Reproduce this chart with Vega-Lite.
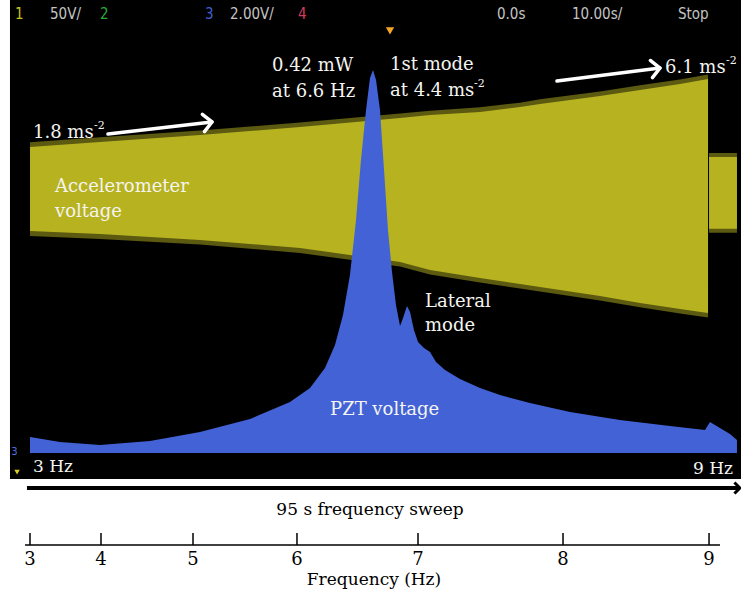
{
  "$schema": "https://vega.github.io/schema/vega-lite/v6.json",
  "width": 741,
  "height": 597,
  "padding": 0,
  "autosize": {"type": "none"},
  "background": "white",
  "config": {"view": {"stroke": null}},
  "datasets": {
    "freq": [
      {"t": -50, "f": "3", "d": -0.956, "d2": -1.168, "dl": -1.434},
      {"t": -40.14, "f": "4", "d": -0.956, "d2": -1.168, "dl": -1.434},
      {"t": -27.36, "f": "5", "d": -0.956, "d2": -1.168, "dl": -1.434},
      {"t": -12.92, "f": "6", "d": -0.956, "d2": -1.168, "dl": -1.434},
      {"t": 3.89, "f": "7", "d": -0.956, "d2": -1.168, "dl": -1.434},
      {"t": 24.03, "f": "8", "d": -0.956, "d2": -1.168, "dl": -1.434},
      {"t": 44.31, "f": "9", "d": -0.956, "d2": -1.168, "dl": -1.434}
    ],
    "accel": [
      {"seg": "sweep", "t": -50, "d": 5.876, "b": 4.389, "st": 5.96, "sb": 4.30},
      {"seg": "sweep", "t": -40.28, "d": 5.965, "b": 4.336, "st": 6.05, "sb": 4.25},
      {"seg": "sweep", "t": -26.39, "d": 6.088, "b": 4.230, "st": 6.17, "sb": 4.15},
      {"seg": "sweep", "t": -12.5, "d": 6.230, "b": 4.088, "st": 6.31, "sb": 4.00},
      {"seg": "sweep", "t": 1.39, "d": 6.389, "b": 3.841, "st": 6.47, "sb": 3.76},
      {"seg": "sweep", "t": 5.56, "d": 6.442, "b": 3.699, "st": 6.52, "sb": 3.62},
      {"seg": "sweep", "t": 12.5, "d": 6.496, "b": 3.558, "st": 6.58, "sb": 3.48},
      {"seg": "sweep", "t": 18.06, "d": 6.584, "b": 3.451, "st": 6.66, "sb": 3.37},
      {"seg": "sweep", "t": 20.83, "d": 6.637, "b": 3.398, "st": 6.72, "sb": 3.32},
      {"seg": "sweep", "t": 29.17, "d": 6.779, "b": 3.239, "st": 6.86, "sb": 3.16},
      {"seg": "sweep", "t": 34.72, "d": 6.885, "b": 3.115, "st": 6.97, "sb": 3.04},
      {"seg": "sweep", "t": 40.28, "d": 6.991, "b": 3.009, "st": 7.07, "sb": 2.93},
      {"seg": "sweep", "t": 44.17, "d": 7.080, "b": 2.938, "st": 7.16, "sb": 2.86},
      {"seg": "tail", "t": 44.31, "d": 5.699, "b": 4.430, "st": 5.77, "sb": 4.36},
      {"seg": "tail", "t": 48.19, "d": 5.699, "b": 4.430, "st": 5.77, "sb": 4.36}
    ]
  },
  "encoding": {
    "x": {"field": "t", "type": "quantitative", "scale": {"domain": [-54.1667, 48.75], "nice": false, "zero": false}, "axis": null},
    "y": {"field": "d", "type": "quantitative", "scale": {"domain": [-2.088, 8.478], "nice": false, "zero": false}, "axis": null}
  },
  "layer": [
    {
      "data": {"values": [{"t": -52.78, "t2": 48.75, "d": 0, "d2": 8.478}]},
      "mark": {"type": "rect", "color": "black"},
      "encoding": {"x2": {"field": "t2"}, "y2": {"field": "d2"}}
    },
    {
      "data": {"values": [{"t": -40}, {"t": -30}, {"t": -20}, {"t": -10}, {"t": 0}, {"t": 10}, {"t": 20}, {"t": 30}, {"t": 40}]},
      "mark": {"type": "rule", "color": "#3a3a3a", "strokeWidth": 1},
      "encoding": {"y": {"datum": 0}, "y2": {"datum": 8}}
    },
    {
      "data": {"values": [{"d": 1}, {"d": 2}, {"d": 3}, {"d": 4}, {"d": 5}, {"d": 6}, {"d": 7}]},
      "mark": {"type": "rule", "color": "#3a3a3a", "strokeWidth": 1},
      "encoding": {"x": {"datum": -50}, "x2": {"datum": 48.75}}
    },
    {
      "data": {"values": [{"t": -50}]},
      "mark": {"type": "rule", "color": "#c4c4c4", "strokeWidth": 1.5},
      "encoding": {"y": {"datum": 0}, "y2": {"datum": 8}}
    },
    {
      "data": {"values": [{"d": 8}]},
      "mark": {"type": "rule", "color": "#9a9a9a", "strokeWidth": 1.5},
      "encoding": {"x": {"datum": -52.78}, "x2": {"datum": 48.75}}
    },
    {
      "data": {"name": "accel"},
      "mark": {"type": "area", "color": "#b7b21f", "opacity": 0.5},
      "encoding": {"y": {"field": "st"}, "y2": {"field": "sb"}, "detail": {"field": "seg"}}
    },
    {
      "data": {"name": "accel"},
      "mark": {"type": "area", "color": "#b7b21f", "opacity": 1},
      "encoding": {"y2": {"field": "b"}, "detail": {"field": "seg"}}
    },
    {
      "data": {"values": [
        {"t": -50, "d": 0.743}, {"t": -45.83, "d": 0.655}, {"t": -40.28, "d": 0.602},
        {"t": -33.33, "d": 0.673}, {"t": -26.39, "d": 0.832}, {"t": -19.44, "d": 1.062},
        {"t": -13.89, "d": 1.363}, {"t": -11.11, "d": 1.611}, {"t": -9.03, "d": 1.965},
        {"t": -7.64, "d": 2.372}, {"t": -6.53, "d": 2.903}, {"t": -5.56, "d": 3.611},
        {"t": -4.72, "d": 4.584}, {"t": -4.03, "d": 5.646}, {"t": -3.33, "d": 6.531},
        {"t": -2.78, "d": 7.097}, {"t": -2.36, "d": 7.239}, {"t": -1.94, "d": 7.062},
        {"t": -1.39, "d": 6.531}, {"t": -0.83, "d": 5.469}, {"t": -0.28, "d": 4.407},
        {"t": 0.28, "d": 3.664}, {"t": 0.83, "d": 3.080}, {"t": 1.39, "d": 2.708},
        {"t": 1.81, "d": 2.850}, {"t": 2.36, "d": 3.062}, {"t": 2.78, "d": 2.956},
        {"t": 3.33, "d": 2.637}, {"t": 3.89, "d": 2.425}, {"t": 4.72, "d": 2.319},
        {"t": 5.56, "d": 2.248}, {"t": 6.39, "d": 2.071}, {"t": 7.64, "d": 1.929},
        {"t": 9.72, "d": 1.770}, {"t": 12.5, "d": 1.611}, {"t": 15.28, "d": 1.487},
        {"t": 19.44, "d": 1.345}, {"t": 25, "d": 1.186}, {"t": 31.94, "d": 1.044},
        {"t": 38.89, "d": 0.938}, {"t": 43.75, "d": 0.867}, {"t": 44.44, "d": 1.009},
        {"t": 45.83, "d": 0.903}, {"t": 47.22, "d": 0.796}, {"t": 48.19, "d": 0.690}
      ]},
      "mark": {"type": "area", "color": "#4262d6", "opacity": 1},
      "encoding": {"y2": {"datum": 0.46}}
    },
    {
      "data": {"values": [{"d": 7.17}, {"d": 2.94}]},
      "mark": {"type": "rule", "color": "#e8872e", "strokeWidth": 2, "strokeDash": [6, 4]},
      "encoding": {"x": {"datum": -50}, "x2": {"datum": 48.75}}
    },
    {
      "data": {"values": [{"t": 0, "d": 7.93}]},
      "mark": {"type": "point", "shape": "triangle-down", "filled": true, "color": "#f5a623", "size": 70, "opacity": 1}
    },
    {
      "data": {"values": [{"t": -51.8, "d": 0.124}]},
      "mark": {"type": "point", "shape": "triangle-down", "filled": true, "color": "#d8d020", "size": 30, "opacity": 1}
    },
    {
      "data": {"values": [{"t": -52.6, "d": 0.478, "txt": "3"}]},
      "mark": {"type": "text", "color": "#4f6fe0", "fontSize": 10, "align": "left", "baseline": "middle", "font": "DejaVu Sans"},
      "encoding": {"text": {"field": "txt"}}
    },
    {
      "data": {"values": [
        {"t": -52.08, "d": 8.23, "txt": "1", "ch": "c1"},
        {"t": -47.22, "d": 8.23, "txt": "50V/", "ch": "info"},
        {"t": -40.28, "d": 8.23, "txt": "2", "ch": "c2"},
        {"t": -25.69, "d": 8.23, "txt": "3", "ch": "c3"},
        {"t": -22.22, "d": 8.23, "txt": "2.00V/", "ch": "info"},
        {"t": -12.78, "d": 8.23, "txt": "4", "ch": "c4"},
        {"t": 14.86, "d": 8.23, "txt": "0.0s", "ch": "info"},
        {"t": 25.28, "d": 8.23, "txt": "10.00s/", "ch": "info"},
        {"t": 40, "d": 8.23, "txt": "Stop", "ch": "info"}
      ]},
      "mark": {"type": "text", "align": "left", "baseline": "middle", "fontSize": 15, "font": "DejaVu Sans Condensed, Liberation Sans Narrow, Roboto, sans-serif"},
      "encoding": {
        "text": {"field": "txt"},
        "color": {"field": "ch", "type": "nominal", "legend": null, "scale": {"domain": ["c1", "c2", "c3", "c4", "info"], "range": ["#c8c41e", "#2fa83a", "#4060d0", "#d23a5a", "#c4c4c4"]}}
      }
    },
    {
      "data": {"values": [
        {"t": -16.39, "d": 7.31, "txt": "0.42 mW"},
        {"t": -16.39, "d": 6.85, "txt": "at 6.6 Hz"},
        {"t": 0, "d": 7.327, "txt": "1st mode"},
        {"t": 0, "d": 6.867, "txt": "at 4.4 ms"},
        {"t": -49.58, "d": 6.124, "txt": "1.8 ms"},
        {"t": 38.19, "d": 7.274, "txt": "6.1 ms"},
        {"t": -46.53, "d": 5.168, "txt": "Accelerometer"},
        {"t": -46.53, "d": 4.726, "txt": "voltage"},
        {"t": 4.86, "d": 3.133, "txt": "Lateral"},
        {"t": 4.86, "d": 2.708, "txt": "mode"},
        {"t": -8.33, "d": 1.221, "txt": "PZT voltage"}
      ]},
      "mark": {"type": "text", "align": "left", "baseline": "middle", "fontSize": 18, "font": "DejaVu Serif", "color": "#f4f4f0"},
      "encoding": {"text": {"field": "txt"}}
    },
    {
      "data": {"values": [
        {"t": 11.67, "d": 6.99, "txt": "-2"},
        {"t": -41.11, "d": 6.248, "txt": "-2"},
        {"t": 46.67, "d": 7.40, "txt": "-2"}
      ]},
      "mark": {"type": "text", "align": "left", "baseline": "middle", "fontSize": 11, "font": "DejaVu Serif", "color": "#f4f4f0"},
      "encoding": {"text": {"field": "txt"}}
    },
    {
      "data": {"values": [
        {"t": -49.58, "d": 0.212, "txt": "3 Hz"},
        {"t": 42.08, "d": 0.177, "txt": "9 Hz"}
      ]},
      "mark": {"type": "text", "align": "left", "baseline": "middle", "fontSize": 17, "font": "DejaVu Serif", "color": "#f4f4f0"},
      "encoding": {"text": {"field": "txt"}}
    },
    {
      "data": {"values": [
        {"t": -39.17, "d": 6.106, "t2": -24.72, "d2": 6.319},
        {"t": 23.19, "d": 7.044, "t2": 37.5, "d2": 7.274}
      ]},
      "mark": {"type": "rule", "color": "white", "strokeWidth": 3.5, "strokeCap": "round"},
      "encoding": {"x2": {"field": "t2"}, "y2": {"field": "d2"}}
    },
    {
      "data": {"values": [{"t": -24.72, "d": 6.319}, {"t": 37.5, "d": 7.274}]},
      "mark": {"type": "point", "shape": "M-1,-1L0,0L-1,1", "filled": false, "stroke": "white", "strokeWidth": 3.5, "strokeCap": "round", "strokeJoin": "round", "size": 300, "angle": -7, "opacity": 1}
    },
    {
      "data": {"values": [{"t": -50.42, "d": -0.159, "t2": 48.4}]},
      "mark": {"type": "rule", "color": "black", "strokeWidth": 4},
      "encoding": {"x2": {"field": "t2"}}
    },
    {
      "data": {"values": [{"t": 48.6, "d": -0.159}]},
      "mark": {"type": "point", "shape": "M-1,-1L0,0L-1,1", "filled": false, "stroke": "black", "strokeWidth": 3, "size": 120, "opacity": 1}
    },
    {
      "data": {"values": [{"t": -2.78, "d": -0.549, "txt": "95 s frequency sweep"}, {"t": -2.22, "d": -1.788, "txt": "Frequency (Hz)"}]},
      "mark": {"type": "text", "align": "center", "baseline": "middle", "fontSize": 17, "font": "DejaVu Serif", "color": "black"},
      "encoding": {"text": {"field": "txt"}}
    },
    {
      "data": {"values": [{"t": -50.69, "t2": 45.83, "d": -1.168}]},
      "mark": {"type": "rule", "color": "black", "strokeWidth": 1.5},
      "encoding": {"x2": {"field": "t2"}}
    },
    {
      "data": {"name": "freq"},
      "mark": {"type": "rule", "color": "black", "strokeWidth": 1.5},
      "encoding": {"y2": {"field": "d2"}}
    },
    {
      "data": {"name": "freq"},
      "mark": {"type": "text", "align": "center", "baseline": "middle", "fontSize": 18, "font": "DejaVu Serif", "color": "black"},
      "encoding": {"y": {"field": "dl", "type": "quantitative"}, "text": {"field": "f"}}
    }
  ]
}
